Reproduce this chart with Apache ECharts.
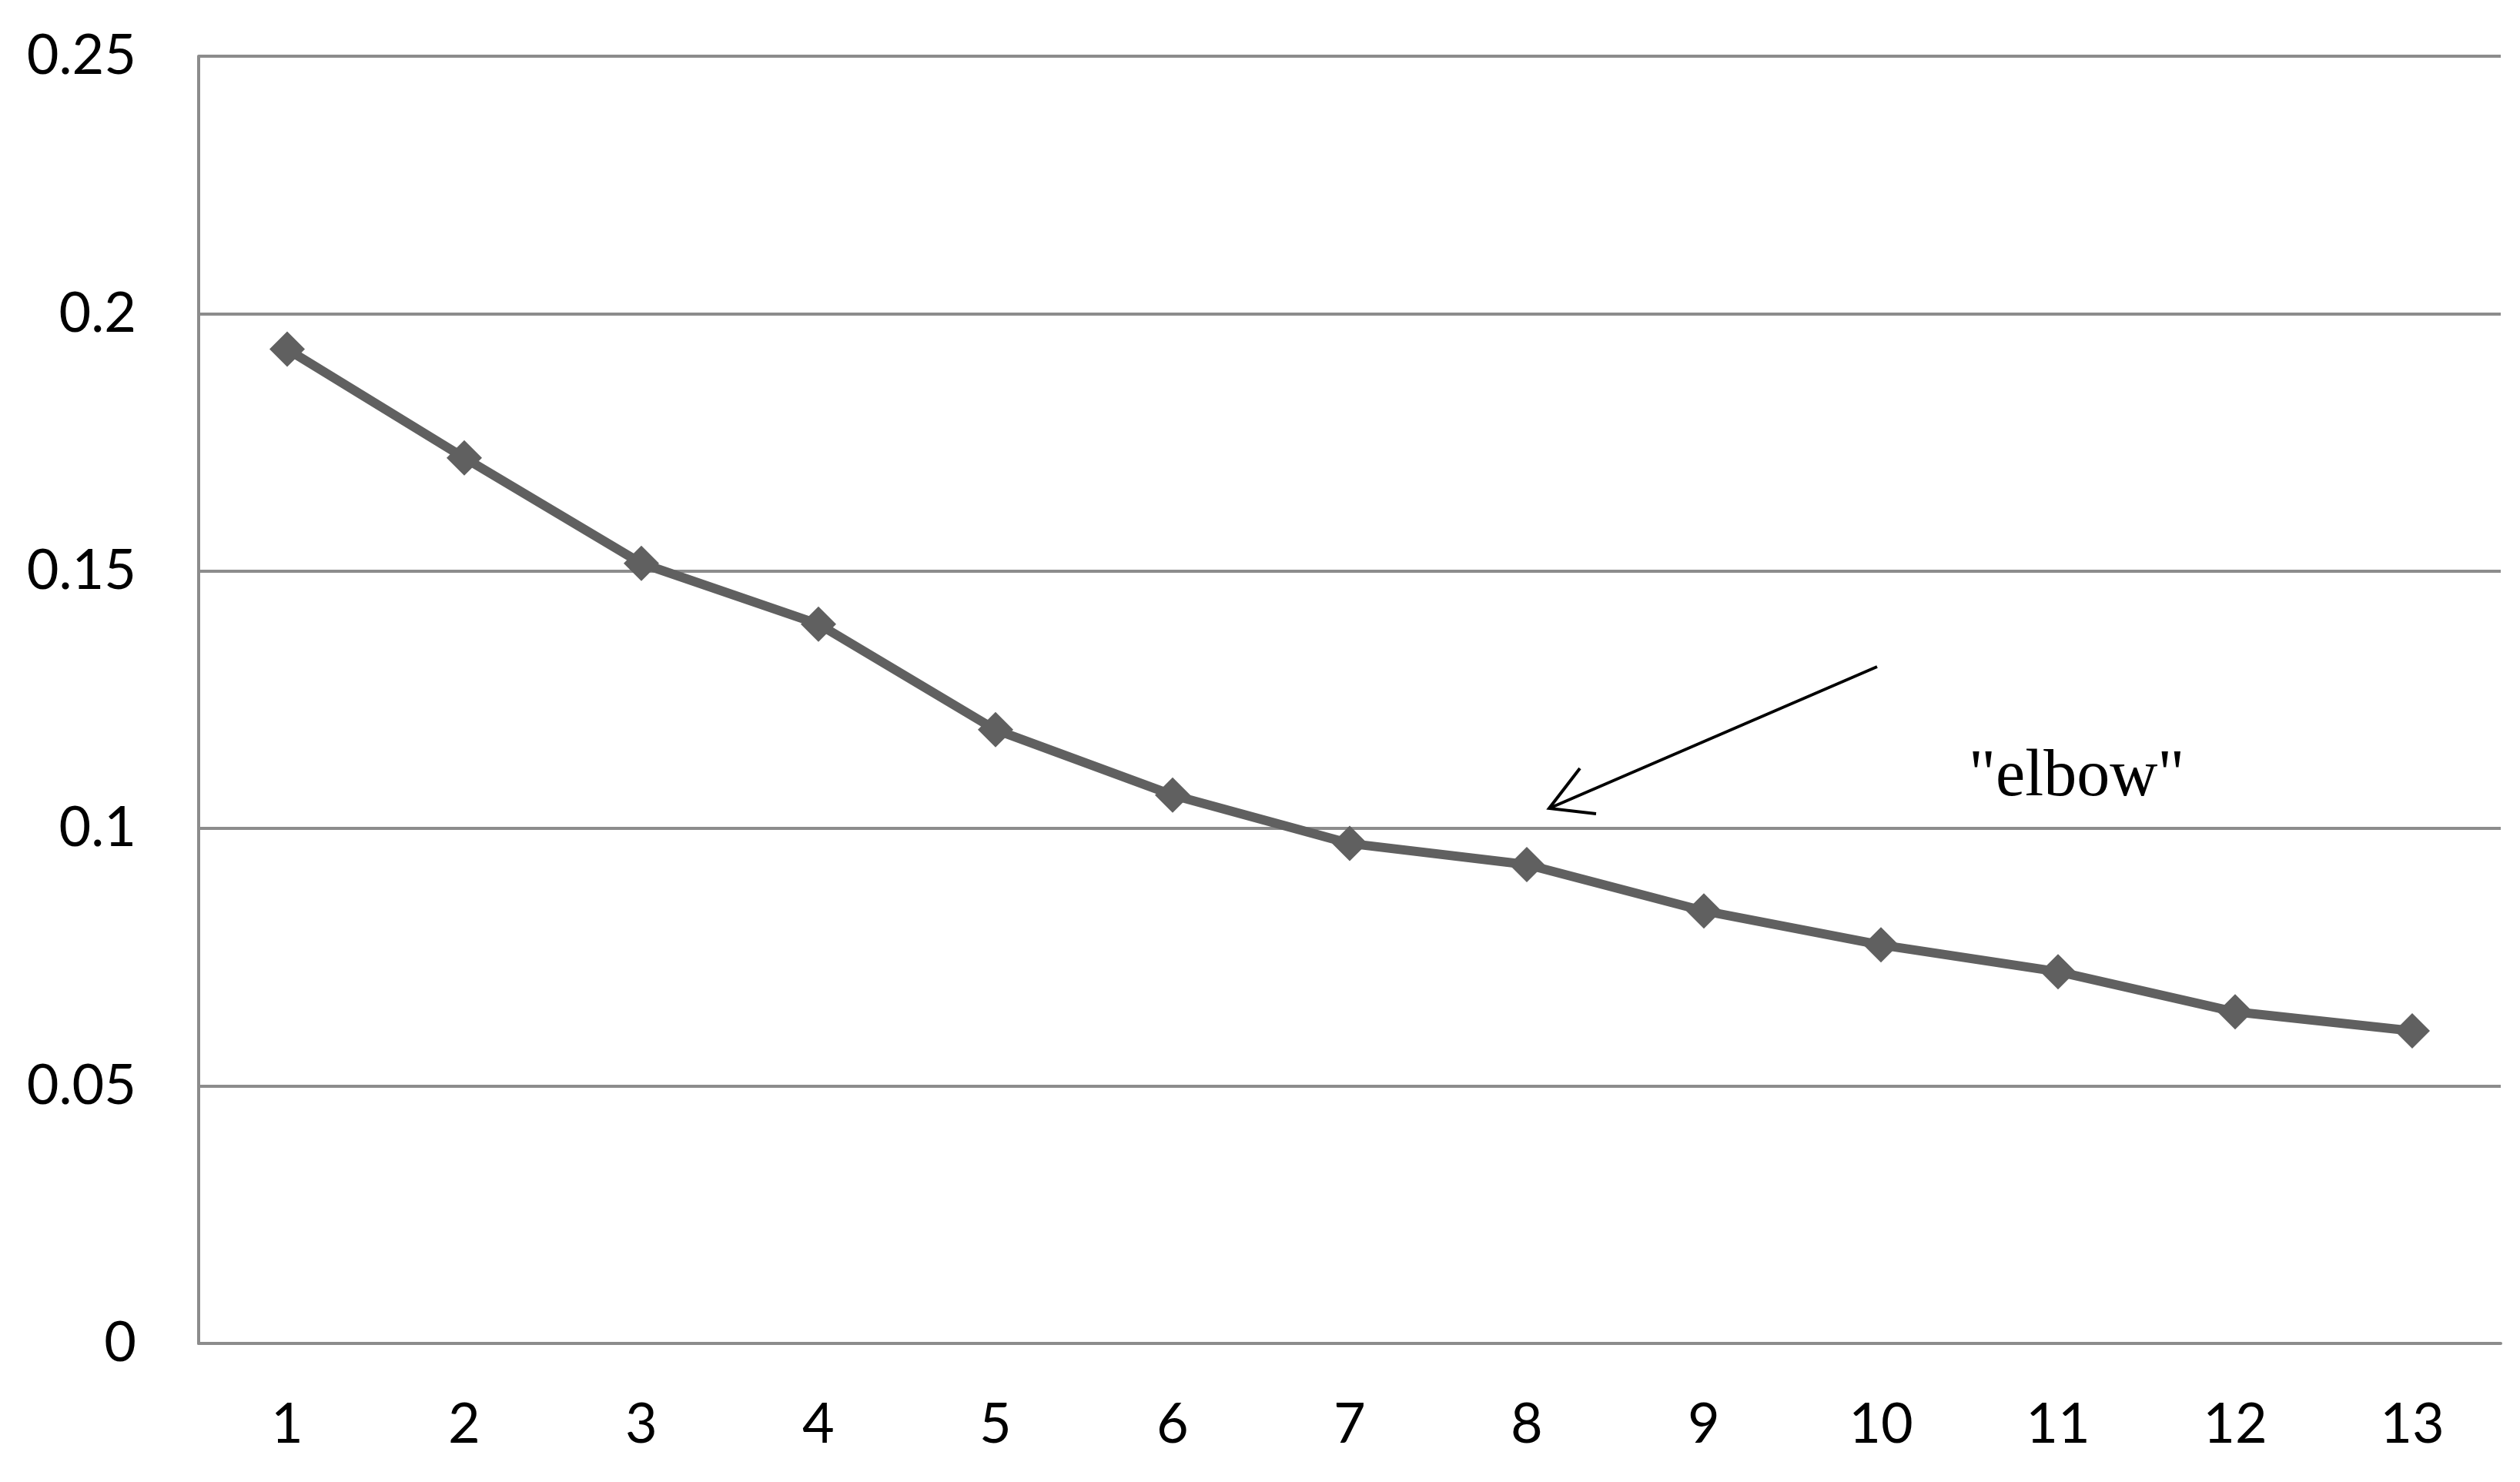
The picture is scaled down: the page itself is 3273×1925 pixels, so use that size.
<!DOCTYPE html>
<html>
<head>
<meta charset="utf-8">
<script src="https://cdn.jsdelivr.net/npm/echarts@6/dist/echarts.min.js"></script>
<style>
html,body{margin:0;padding:0;background:#fff;}
#chart{width:3273px;height:1925px;}
</style>
</head>
<body>
<div id="chart"></div>
<script>
var categories = ['1','2','3','4','5','6','7','8','9','10','11','12','13'];
var values = [0.1931, 0.1720, 0.1515, 0.1397, 0.1192, 0.1065, 0.0971, 0.0930, 0.0840, 0.0774, 0.0722, 0.0644, 0.0607];
var yTicks = [0, 0.05, 0.1, 0.15, 0.2, 0.25];
var annotationText = '"elbow"';

var gridColor = '#8c8c8c';
var chart = echarts.init(document.getElementById('chart'), null, {renderer: 'canvas'});
chart.setOption({
  animation: false,
  backgroundColor: '#ffffff',
  grid: {left: 258, right: 25, top: 73, bottom: 180, containLabel: false},
  xAxis: {
    type: 'category',
    data: categories,
    boundaryGap: true,
    axisLine: {show: true, lineStyle: {color: gridColor, width: 4}},
    axisTick: {show: false},
    axisLabel: {color: '#000', fontFamily: 'Lato', fontSize: 72, margin: 70}
  },
  yAxis: {
    type: 'value',
    min: yTicks[0],
    max: yTicks[yTicks.length - 1],
    interval: yTicks[1] - yTicks[0],
    axisLine: {show: true, lineStyle: {color: gridColor, width: 4}},
    axisTick: {show: false},
    splitLine: {show: true, lineStyle: {color: gridColor, width: 4}},
    axisLabel: {color: '#000', fontFamily: 'Lato', fontSize: 72, margin: 81,
      formatter: function (v) { return String(parseFloat(v.toFixed(2))); }}
  },
  series: [{
    type: 'line',
    data: values,
    symbol: 'diamond',
    symbolSize: 46,
    showAllSymbol: true,
    lineStyle: {color: '#606060', width: 12},
    itemStyle: {color: '#606060'},
    z: 5
  }],
  graphic: [
    {type: 'line', shape: {x1: 2438, y1: 866, x2: 2012, y2: 1050}, style: {stroke: '#000', lineWidth: 4}, z: 10},
    {type: 'polyline', shape: {points: [[2052, 998], [2012, 1050], [2073, 1057]]}, style: {stroke: '#000', lineWidth: 4, fill: null}, z: 10},
    {type: 'text', left: 2557, top: 967, style: {text: annotationText, font: '86px "Liberation Serif"', fill: '#000'}, z: 10}
  ]
});
</script>
</body>
</html>
